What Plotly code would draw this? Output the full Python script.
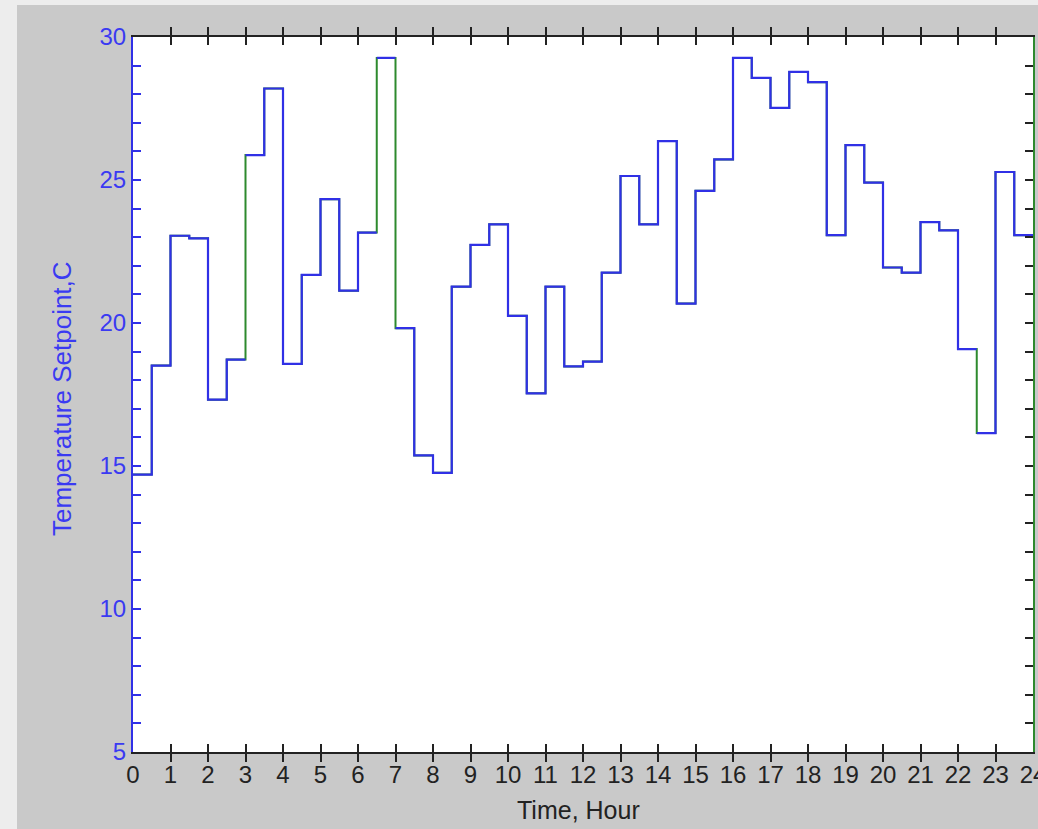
import plotly.graph_objects as go

# ---- data (half-hour step setpoints) ----
hours = [0, 0.5, 1, 1.5, 2, 2.5, 3, 3.5, 4, 4.5, 5, 5.5, 6, 6.5, 7, 7.5,
         8, 8.5, 9, 9.5, 10, 10.5, 11, 11.5, 12, 12.5, 13, 13.5, 14, 14.5, 15, 15.5,
         16, 16.5, 17, 17.5, 18, 18.5, 19, 19.5, 20, 20.5, 21, 21.5, 22, 22.5, 23, 23.5]
end_hour = 24
setpoint = [14.70, 18.51, 23.05, 22.96, 17.32, 18.72, 25.87, 28.20,
            18.57, 21.68, 24.33, 21.13, 23.16, 29.27, 19.82, 15.37,
            14.76, 21.27, 22.73, 23.45, 20.25, 17.54, 21.27, 18.48,
            18.65, 21.76, 25.14, 23.45, 26.36, 20.68, 24.62, 25.72,
            29.27, 28.57, 27.52, 28.78, 28.42, 23.07, 26.22, 24.91,
            21.94, 21.76, 23.53, 23.24, 19.09, 16.15, 25.28, 23.07]
# transitions where only the green (reference) trace shows its vertical edge
green_only_transitions = [3, 6.5, 7, 22.5]

x_ticks = list(range(0, 25))
y_ticks = list(range(5, 31))
y_labels = [str(v) if v % 5 == 0 else "" for v in y_ticks]

BLUE = "#3030e6"
BLUE_TXT = "#3a3af2"
GREEN = "#2e8a2e"
DARK = "#222222"
FONT = "Liberation Sans, Arial, sans-serif"

# green trace: standard step
gx = hours + [end_hour]
gy = setpoint + [setpoint[-1]]

# blue trace: step path with a few vertical edges left out
bx, by = [], []
for i, (t, v) in enumerate(zip(hours, setpoint)):
    if i == 0:
        bx.append(t); by.append(v)
    else:
        if t in green_only_transitions:
            bx.append(None); by.append(None)
        bx.append(t); by.append(v)
    t_next = hours[i + 1] if i + 1 < len(hours) else end_hour
    bx.append(t_next); by.append(v)

fig = go.Figure()
fig.add_trace(go.Scatter(x=gx, y=gy, mode="lines", line=dict(color=GREEN, width=2, shape="hv"),
                         yaxis="y", showlegend=False, hoverinfo="skip"))
fig.add_trace(go.Scatter(x=bx, y=by, mode="lines", line=dict(color=BLUE, width=2.2),
                         yaxis="y2", showlegend=False, connectgaps=False))

L, R, T, B = 133, 5, 37, 77
W, H = 1038, 829
pw, ph = W - L - R, H - T - B

fig.update_layout(
    width=W, height=H,
    margin=dict(l=L, r=R, t=T, b=B, autoexpand=False),
    paper_bgcolor="#ededed",
    plot_bgcolor="white",
    font=dict(family=FONT),
    xaxis=dict(range=[0, 24], tickmode="array", tickvals=x_ticks, ticks="inside",
               ticklen=8, tickwidth=1.5, tickcolor=DARK, showline=True, linecolor=DARK,
               linewidth=2, mirror="allticks", showgrid=False, zeroline=False,
               ticklabeloverflow="allow",
               tickfont=dict(family=FONT, size=24, color=DARK)),
    yaxis=dict(range=[5, 30], tickmode="array", tickvals=y_ticks, ticktext=y_labels,
               ticks="inside", ticklen=8, tickwidth=1.5, tickcolor=BLUE, showline=True,
               linecolor=BLUE, linewidth=2, showgrid=False, zeroline=False,
               tickfont=dict(family=FONT, size=24, color=BLUE_TXT)),
    yaxis2=dict(range=[5, 30], overlaying="y", side="right", tickmode="array",
                tickvals=y_ticks, showticklabels=False, ticks="inside", ticklen=8,
                tickwidth=1.5, tickcolor=DARK, showline=True, linecolor=GREEN,
                linewidth=2, showgrid=False, zeroline=False),
    shapes=[
        dict(type="rect", xref="paper", yref="paper", layer="below",
             x0=(17 - L) / pw, x1=(W + 5 - L) / pw, y0=-(B + 5) / ph, y1=(H - B - 5) / ph,
             fillcolor="#c9c9c9", line=dict(width=0)),
        dict(type="rect", xref="paper", yref="paper", layer="below",
             x0=0, x1=1, y0=0, y1=1, fillcolor="white", line=dict(width=0)),
    ],
    annotations=[
        dict(text="Temperature Setpoint,C", xref="paper", yref="paper",
             x=(62 - L) / pw, y=(H - B - 399) / ph, textangle=-90, showarrow=False,
             xanchor="center", yanchor="middle", font=dict(family=FONT, size=26, color=BLUE_TXT)),
        dict(text="Time, Hour", xref="paper", yref="paper",
             x=(578 - L) / pw, y=(H - B - 810) / ph, showarrow=False,
             xanchor="center", yanchor="middle", font=dict(family=FONT, size=25, color=DARK)),
    ],
)

fig.write_html("out.html")
